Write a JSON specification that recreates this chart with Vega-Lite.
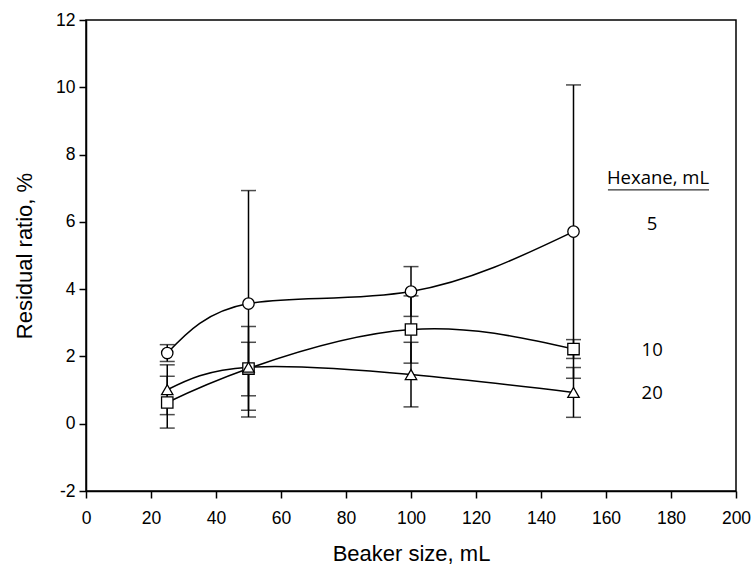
{
  "$schema": "https://vega.github.io/schema/vega-lite/v6.json",
  "width": 650,
  "height": 471,
  "autosize": {"type": "none"},
  "padding": {"left": 86, "top": 20, "right": 17, "bottom": 78},
  "background": "white",
  "config": {
    "view": {"stroke": "black", "strokeWidth": 1.5},
    "axis": {
      "grid": false,
      "labelFlush": false,
      "labelOverlap": false,
      "domainColor": "black",
      "domainWidth": 1.5,
      "tickColor": "black",
      "tickWidth": 1.5,
      "tickSize": 7,
      "labelColor": "black",
      "labelFont": "Liberation Sans",
      "labelFontSize": 17.5,
      "titleFont": "Liberation Sans",
      "titleFontSize": 22,
      "titleFontWeight": "normal",
      "titleColor": "black"
    }
  },
  "datasets": {
    "pts": [
      {"beaker": 25, "hexane": "5", "mean": 2.1, "lo": 1.85, "hi": 2.35},
      {"beaker": 50, "hexane": "5", "mean": 3.57, "lo": 0.2, "hi": 6.93},
      {"beaker": 100, "hexane": "5", "mean": 3.93, "lo": 3.19, "hi": 4.67},
      {"beaker": 150, "hexane": "5", "mean": 5.71, "lo": 1.35, "hi": 10.07},
      {"beaker": 25, "hexane": "10", "mean": 0.63, "lo": -0.13, "hi": 1.41},
      {"beaker": 50, "hexane": "10", "mean": 1.64, "lo": 0.4, "hi": 2.89},
      {"beaker": 100, "hexane": "10", "mean": 2.8, "lo": 1.8, "hi": 3.8},
      {"beaker": 150, "hexane": "10", "mean": 2.22, "lo": 1.94, "hi": 2.5},
      {"beaker": 25, "hexane": "20", "mean": 1.01, "lo": 0.27, "hi": 1.75},
      {"beaker": 50, "hexane": "20", "mean": 1.68, "lo": 0.83, "hi": 2.42},
      {"beaker": 100, "hexane": "20", "mean": 1.46, "lo": 0.5, "hi": 2.42},
      {"beaker": 150, "hexane": "20", "mean": 0.93, "lo": 0.19, "hi": 1.67}
    ],
    "labels": [
      {"x": 174.2, "y": 5.94, "label": "5"},
      {"x": 174.2, "y": 2.2, "label": "10"},
      {"x": 174.2, "y": 0.92, "label": "20"},
      {"x": 176, "y": 7.3, "label": "Hexane, mL"}
    ],
    "underline": [
      {"x": 160.6, "x2": 191.7, "y": 6.95}
    ]
  },
  "layer": [
    {
      "data": {"name": "pts"},
      "mark": {"type": "rule", "color": "black", "strokeWidth": 1.5},
      "encoding": {
        "x": {"field": "beaker", "type": "quantitative", "scale": {"domain": [0, 200]},
              "axis": {"values": [0,20,40,60,80,100,120,140,160,180,200], "title": "Beaker size, mL", "titlePadding": 17, "labelPadding": 11}},
        "y": {"field": "lo", "type": "quantitative", "scale": {"domain": [-2, 12]},
              "axis": {"values": [-2,0,2,4,6,8,10,12], "labelExpr": "'' + datum.value", "title": "Residual ratio, %", "titlePadding": 19, "labelPadding": 4}},
        "y2": {"field": "hi"}
      }
    },
    {
      "data": {"name": "pts"},
      "mark": {"type": "tick", "orient": "horizontal", "color": "black", "thickness": 1.5, "size": 15},
      "encoding": {
        "x": {"field": "beaker", "type": "quantitative"},
        "y": {"field": "lo", "type": "quantitative"}
      }
    },
    {
      "data": {"name": "pts"},
      "mark": {"type": "tick", "orient": "horizontal", "color": "black", "thickness": 1.5, "size": 15},
      "encoding": {
        "x": {"field": "beaker", "type": "quantitative"},
        "y": {"field": "hi", "type": "quantitative"}
      }
    },
    {
      "data": {"name": "pts"},
      "mark": {"type": "line", "color": "black", "strokeWidth": 1.5, "interpolate": "natural"},
      "encoding": {
        "x": {"field": "beaker", "type": "quantitative"},
        "y": {"field": "mean", "type": "quantitative"},
        "detail": {"field": "hexane"}
      }
    },
    {
      "data": {"name": "pts"},
      "mark": {"type": "point", "filled": true, "fill": "white", "stroke": "black", "strokeWidth": 1.3, "opacity": 1, "size": 130},
      "encoding": {
        "x": {"field": "beaker", "type": "quantitative"},
        "y": {"field": "mean", "type": "quantitative"},
        "shape": {"field": "hexane", "type": "nominal", "legend": null,
                  "scale": {"domain": ["5", "10", "20"], "range": ["circle", "square", "triangle-up"]}}
      }
    },
    {
      "data": {"name": "labels"},
      "mark": {"type": "text", "font": "Open Sans", "fontSize": 18.5, "color": "black", "align": "center", "baseline": "middle"},
      "encoding": {
        "x": {"field": "x", "type": "quantitative"},
        "y": {"field": "y", "type": "quantitative"},
        "text": {"field": "label"}
      }
    },
    {
      "data": {"name": "underline"},
      "mark": {"type": "rule", "color": "black", "strokeWidth": 1},
      "encoding": {
        "x": {"field": "x", "type": "quantitative"},
        "x2": {"field": "x2"},
        "y": {"field": "y", "type": "quantitative"}
      }
    }
  ]
}
